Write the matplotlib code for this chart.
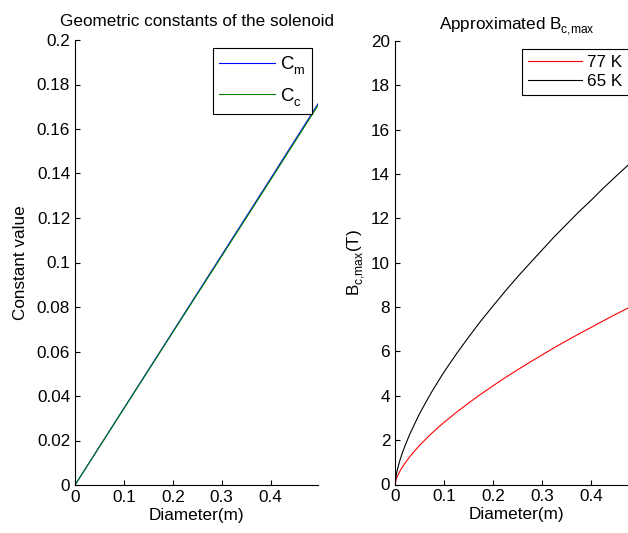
import matplotlib
matplotlib.use("Agg")
import matplotlib.pyplot as plt

try:
    from matplotlib import _mathtext as _mt
    for _cls in [_mt.FontConstantsBase] + list(_mt.FontConstantsBase.__subclasses__()):
        _cls.sub1 = 0.5
        _cls.sub2 = 0.6
except Exception:
    pass

# ---- data ----
diam_lin = [0.0, 0.1, 0.2, 0.3, 0.4, 0.497]
c_m = [0.0, 0.0345, 0.0689, 0.1033, 0.1377, 0.1713]
c_c = [0.0, 0.0343, 0.0686, 0.1028, 0.1371, 0.1706]

diam = [0.0, 0.0025, 0.005, 0.01, 0.015, 0.02, 0.03, 0.04, 0.05, 0.0625,
        0.075, 0.0875, 0.1, 0.125, 0.15, 0.175, 0.2, 0.225, 0.25, 0.275,
        0.3, 0.325, 0.35, 0.375, 0.4, 0.425, 0.45, 0.475, 0.497]
b_77 = [0.0, 0.24, 0.38, 0.60, 0.79, 0.95, 1.25, 1.51, 1.76, 2.04,
        2.31, 2.56, 2.80, 3.25, 3.67, 4.07, 4.45, 4.82, 5.17, 5.51,
        5.84, 6.17, 6.48, 6.79, 7.08, 7.38, 7.67, 7.95, 8.19]
b_65 = [0.0, 0.43, 0.69, 1.09, 1.43, 1.72, 2.26, 2.73, 3.19, 3.69,
        4.18, 4.63, 5.07, 5.88, 6.64, 7.37, 8.05, 8.72, 9.36, 9.97,
        10.57, 11.17, 11.73, 12.29, 12.81, 13.36, 13.88, 14.39, 14.82]

xticks = [0, 0.1, 0.2, 0.3, 0.4]
xticklabels = ["0", "0.1", "0.2", "0.3", "0.4"]
left_yticks = [0, 0.02, 0.04, 0.06, 0.08, 0.1, 0.12, 0.14, 0.16, 0.18, 0.2]
left_yticklabels = ["0", "0.02", "0.04", "0.06", "0.08", "0.1", "0.12",
                    "0.14", "0.16", "0.18", "0.2"]
right_yticks = [0, 2, 4, 6, 8, 10, 12, 14, 16, 18, 20]

plt.rcParams["font.family"] = ["Liberation Sans", "DejaVu Sans"]
plt.rcParams["mathtext.fontset"] = "custom"
plt.rcParams["mathtext.rm"] = "Liberation Sans"
plt.rcParams["mathtext.it"] = "Liberation Sans"
plt.rcParams["mathtext.bf"] = "Liberation Sans:bold"

FS = 12.3

fig = plt.figure(figsize=(6.28, 5.33), dpi=100)
W, H = 628.0, 533.0

def make_ax(x0, xend, y0, ytop):
    return fig.add_axes([x0 / W, (H - y0) / H, (xend - x0) / W, (y0 - ytop) / H])

ax1 = make_ax(75, 318, 485, 40)
ax2 = make_ax(395, 638.5, 484.5, 41)

for ax in (ax1, ax2):
    ax.spines["top"].set_visible(False)
    ax.spines["right"].set_visible(False)
    ax.spines["left"].set_linewidth(0.8)
    ax.spines["bottom"].set_linewidth(0.8)
    ax.tick_params(direction="in", length=3.5, width=0.8, labelsize=FS, pad=3.5)
    ax.set_xlim(0, 0.497)
    ax.set_xticks(xticks)
    ax.set_xticklabels(xticklabels)
    ax.set_xlabel("Diameter(m)", fontsize=FS, labelpad=2)

# left
ax1.plot(diam_lin, c_m, color=(0, 0, 1), lw=0.8, label=r"C$_{\mathregular{m}}$")
ax1.plot(diam_lin, c_c, color=(0, 0.5, 0), lw=0.8, label=r"C$_{\mathregular{c}}$")
ax1.set_ylim(0, 0.2)
ax1.set_yticks(left_yticks)
ax1.set_yticklabels(left_yticklabels)
ax1.set_ylabel("Constant value", fontsize=FS, labelpad=6)
ax1.set_title("Geometric constants of the solenoid", fontsize=FS, pad=10)
leg1 = ax1.legend(loc="upper left", bbox_to_anchor=(0.568, 0.982), fontsize=FS + 1,
                  frameon=True, fancybox=False, edgecolor="black", framealpha=1,
                  handlelength=3.0, handletextpad=0.3, borderpad=0.35,
                  labelspacing=0.5, borderaxespad=0)
leg1.get_frame().set_linewidth(0.8)

# right
ax2.plot(diam, b_77, color=(1, 0, 0), lw=0.8, label="77 K")
ax2.plot(diam, b_65, color="black", lw=0.8, label="65 K")
ax2.set_ylim(0, 20)
ax2.set_yticks(right_yticks)
ax2.set_ylabel(r"B$_{\mathregular{c{,}max}}$(T)", fontsize=FS, labelpad=2)
ax2.set_title(r"Approximated B$_{\mathregular{c{,}max}}$", fontsize=FS, pad=8)
leg2 = ax2.legend(loc="upper left", bbox_to_anchor=(0.52, 0.982), fontsize=FS,
                  frameon=True, fancybox=False, edgecolor="black", framealpha=1,
                  handlelength=3.2, handletextpad=0.3, borderpad=0.35,
                  labelspacing=0.25, borderaxespad=0)
leg2.get_frame().set_linewidth(0.8)

fig.savefig("out.png", dpi=100)
